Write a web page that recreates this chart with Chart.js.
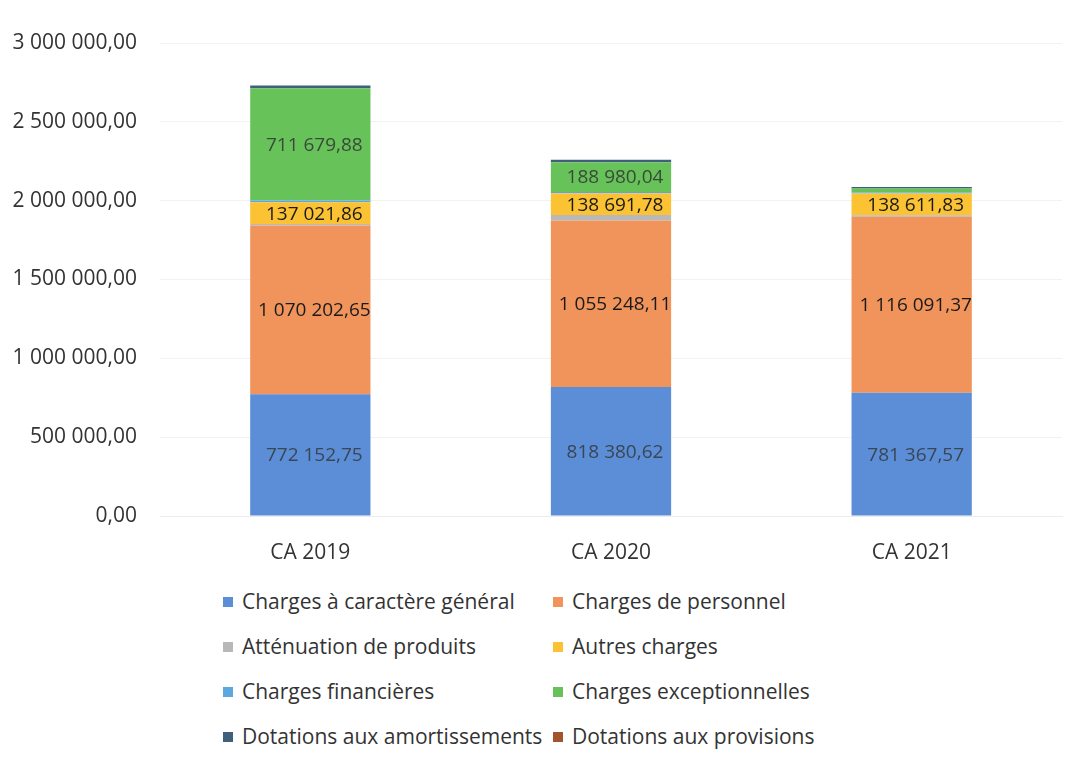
<!DOCTYPE html>
<html>
<head>
<meta charset="utf-8">
<script src="https://cdn.jsdelivr.net/npm/chart.js@4.4.1/dist/chart.umd.min.js"></script>
<style>
  html, body { margin: 0; padding: 0; background: #ffffff; }
  #wrap { position: absolute; left: 0; top: 0; width: 1086px; height: 575px; }
  #legend { position: absolute; left: 223px; top: 589px; width: 640px;
    font-family: "Open Sans", sans-serif; font-size: 21px; color: #333333; }
  .item { position: absolute; white-space: nowrap; line-height: 24px; }
  .sw { display: inline-block; width: 10px; height: 10px; margin-right: 9px; vertical-align: 2px; }
</style>
</head>
<body>
<div id="wrap"><canvas id="c" width="1086" height="575"></canvas></div>
<div id="legend"></div>
<script>
const categories = ["CA 2019", "CA 2020", "CA 2021"];
const seriesNames = [
  "Charges à caractère général",
  "Charges de personnel",
  "Atténuation de produits",
  "Autres charges",
  "Charges financières",
  "Charges exceptionnelles",
  "Dotations aux amortissements",
  "Dotations aux provisions"
];
const chargesGenerales = [772152.75, 818380.62, 781367.57];
const chargesPersonnel = [1070202.65, 1055248.11, 1116091.37];
const attenuationProduits = [10000, 35000, 10000];
const autresCharges = [137021.86, 138691.78, 138611.83];
const chargesFinancieres = [12000, 8000, 6000];
const chargesExceptionnelles = [711679.88, 188980.04, 25000];
const dotationsAmortissements = [18000, 15000, 10000];
const dotationsProvisions = [0, 0, 0];
const yTicks = [0, 500000, 1000000, 1500000, 2000000, 2500000, 3000000];

const seriesValues = [chargesGenerales, chargesPersonnel, attenuationProduits, autresCharges,
  chargesFinancieres, chargesExceptionnelles, dotationsAmortissements, dotationsProvisions];
const colors = ['#5B8ED6', '#F0945C', '#B8B8B8', '#FBC233', '#5BA8E0', '#67C25A', '#3F5F7A', '#A0562A'];
const labelColors = ['#3a4656', '#1a1a1a', '#1a1a1a', '#1a1a1a', '#1a1a1a', '#3a4a3a', '#1a1a1a', '#1a1a1a'];

function fmt(v) {
  let [i, d] = v.toFixed(2).split('.');
  i = i.replace(/\B(?=(\d{3})+(?!\d))/g, ' ');
  return i + ',' + d;
}

const FONT = '"Open Sans", sans-serif';

const labelPlugin = {
  id: 'segLabels',
  afterDatasetsDraw(chart) {
    const ctx = chart.ctx;
    chart.data.datasets.forEach((ds, di) => {
      const meta = chart.getDatasetMeta(di);
      meta.data.forEach((el, i) => {
        const h = Math.abs(el.base - el.y);
        if (h < 18) return;
        const left = el.x - el.width / 2;
        ctx.save();
        ctx.beginPath();
        ctx.rect(left, Math.min(el.y, el.base), el.width, h);
        ctx.clip();
        ctx.font = '19px ' + FONT;
        ctx.fillStyle = labelColors[di];
        ctx.textAlign = 'center';
        ctx.textBaseline = 'middle';
        ctx.fillText(fmt(ds.data[i]), el.x + 4, (el.y + el.base) / 2 + 1);
        ctx.restore();
      });
    });
  }
};

new Chart(document.getElementById('c'), {
  type: 'bar',
  data: {
    labels: categories,
    datasets: seriesNames.map((n, k) => ({
      label: n,
      data: seriesValues[k],
      backgroundColor: colors[k],
      borderWidth: 0,
      categoryPercentage: 1.0,
      barPercentage: 0.4
    }))
  },
  options: {
    responsive: false,
    animation: false,
    layout: { padding: { top: 43, right: 24, bottom: 0, left: 0 } },
    plugins: { legend: { display: false }, tooltip: { enabled: false } },
    scales: {
      x: {
        stacked: true,
        grid: { display: false },
        border: { display: true, color: '#ececec' },
        ticks: { font: { family: FONT, size: 21 }, color: '#333333', padding: 16 },
        afterFit(s) { s.height = 59; }
      },
      y: {
        stacked: true,
        min: 0, max: 3000000,
        afterBuildTicks(s) { s.ticks = yTicks.map(v => ({ value: v })); },
        grid: { color: '#f2f2f2', drawTicks: false },
        border: { display: false },
        ticks: {
          font: { family: FONT, size: 21 }, color: '#333333', padding: 23,
          callback: (v) => fmt(v)
        },
        afterFit(s) { s.width = 160; }
      }
    }
  },
  plugins: [labelPlugin]
});

// legend in two columns
const leg = document.getElementById('legend');
seriesNames.forEach((n, k) => {
  const d = document.createElement('div');
  d.className = 'item';
  d.style.left = (k % 2 === 0 ? 0 : 330) + 'px';
  d.style.top = (Math.floor(k / 2) * 45) + 'px';
  d.innerHTML = '<span class="sw" style="background:' + colors[k] + '"></span>' + n;
  leg.appendChild(d);
});
</script>
</body>
</html>
